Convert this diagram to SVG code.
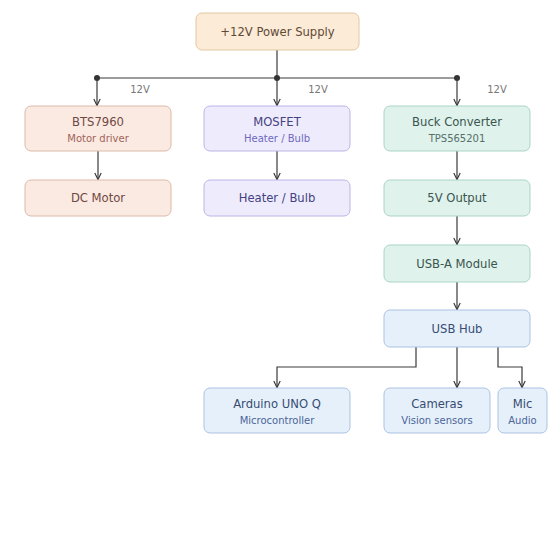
<svg xmlns="http://www.w3.org/2000/svg" width="555" height="555" viewBox="0 0 555 555">
<style>
text{font-family:"DejaVu Sans",sans-serif;text-anchor:middle;dominant-baseline:central}
.t{font-size:11.6px}
.s{font-size:10px}
.lbl{font-size:10px;fill:#777}
.c{fill:none;stroke:#3a3a3a;stroke-width:1.2}
.ps rect{fill:#fcebd6;stroke:#e3c8a0}
.ps text{fill:#5e4a36}
.or rect{fill:#fbeae2;stroke:#dcb9aa}
.or .t{fill:#6e4842}.or .s{fill:#a0645a}
.pu rect{fill:#eeecfc;stroke:#bcb4e8}
.pu .t{fill:#444180}.pu .s{fill:#6e68c0}
.gr rect{fill:#dff2eb;stroke:#aad5c5}
.gr .t{fill:#3a5550}.gr .s{fill:#55706a}
.bl rect{fill:#e6f0fb;stroke:#abc3e3}
.bl .t{fill:#364d72}.bl .s{fill:#4a6598}
</style>
<defs>
<marker id="a" viewBox="0 0 10 10" refX="9" refY="5" markerWidth="8" markerHeight="8" orient="auto" markerUnits="userSpaceOnUse">
<path d="M1 1 L9 5 L1 9" fill="none" stroke="#3a3a3a" stroke-width="1.5"/>
</marker>
</defs>
<g id="connectors">
<path class="c" d="M277 50 V78"/>
<path class="c" d="M97 78 H457"/>
<circle cx="97" cy="78" r="3" fill="#333"/>
<circle cx="277" cy="78" r="3" fill="#333"/>
<circle cx="457" cy="78" r="3" fill="#333"/>
<path class="c" d="M97 78 V105.5" marker-end="url(#a)"/>
<path class="c" d="M277 78 V105.5" marker-end="url(#a)"/>
<path class="c" d="M457 78 V105.5" marker-end="url(#a)"/>
<text class="lbl" x="140" y="89.5">12V</text>
<text class="lbl" x="318" y="89.5">12V</text>
<text class="lbl" x="497" y="89.5">12V</text>
<path class="c" d="M98 151 V179.5" marker-end="url(#a)"/>
<path class="c" d="M277 151 V179.5" marker-end="url(#a)"/>
<path class="c" d="M457 151 V179.5" marker-end="url(#a)"/>
<path class="c" d="M457 216 V244.5" marker-end="url(#a)"/>
<path class="c" d="M457 282 V309.5" marker-end="url(#a)"/>
<path class="c" d="M416 347 V367 H277 V387.5" marker-end="url(#a)"/>
<path class="c" d="M457 347 V387.5" marker-end="url(#a)"/>
<path class="c" d="M498 347 V367 H522 V387.5" marker-end="url(#a)"/>
</g>
<g id="power" class="ps"><rect x="196" y="13" width="163" height="37" rx="6"/><text class="t" x="277.5" y="32">+12V Power Supply</text></g>
<g id="bts" class="or"><rect x="25" y="106" width="146" height="45" rx="6"/><text class="t" x="98" y="122">BTS7960</text><text class="s" x="98" y="138">Motor driver</text></g>
<g id="mosfet" class="pu"><rect x="204" y="106" width="146" height="45" rx="6"/><text class="t" x="277" y="122">MOSFET</text><text class="s" x="277" y="138">Heater / Bulb</text></g>
<g id="buck" class="gr"><rect x="384" y="106" width="146" height="45" rx="6"/><text class="t" x="457" y="122">Buck Converter</text><text class="s" x="457" y="138">TPS565201</text></g>
<g id="motor" class="or"><rect x="25" y="180" width="146" height="36" rx="6"/><text class="t" x="98" y="198">DC Motor</text></g>
<g id="heater" class="pu"><rect x="204" y="180" width="146" height="36" rx="6"/><text class="t" x="277" y="198">Heater / Bulb</text></g>
<g id="out5v" class="gr"><rect x="384" y="180" width="146" height="36" rx="6"/><text class="t" x="457" y="198">5V Output</text></g>
<g id="usba" class="gr"><rect x="384" y="245" width="146" height="37" rx="6"/><text class="t" x="457" y="264">USB-A Module</text></g>
<g id="hub" class="bl"><rect x="384" y="310" width="146" height="37" rx="6"/><text class="t" x="457" y="329">USB Hub</text></g>
<g id="arduino" class="bl"><rect x="204" y="388" width="146" height="45" rx="6"/><text class="t" x="277" y="404">Arduino UNO Q</text><text class="s" x="277" y="420">Microcontroller</text></g>
<g id="cameras" class="bl"><rect x="384" y="388" width="106" height="45" rx="6"/><text class="t" x="437" y="404">Cameras</text><text class="s" x="437" y="420">Vision sensors</text></g>
<g id="mic" class="bl"><rect x="498" y="388" width="49" height="45" rx="6"/><text class="t" x="522.5" y="404">Mic</text><text class="s" x="522.5" y="420">Audio</text></g>
</svg>
